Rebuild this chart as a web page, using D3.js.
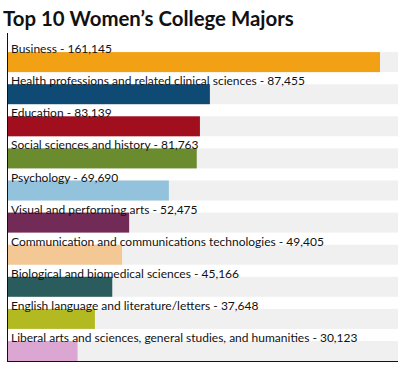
<!DOCTYPE html>
<meta charset="utf-8">
<script src="https://cdn.jsdelivr.net/npm/d3@7"></script>
<style>
  body { margin: 0; background: #fff; }
  text { font-family: Lato, "Open Sans", sans-serif; }
</style>
<body>
<script>

// Data.
var majors = ["Business",
              "Health professions and related clinical sciences",
              "Education",
              "Social sciences and history",
              "Psychology",
              "Visual and performing arts",
              "Communication and communications technologies",
              "Biological and biomedical sciences",
              "English language and literature/letters",
              "Liberal arts and sciences, general studies, and humanities"];
var degrees = [161145, 87455, 83139, 81763, 69690, 52475, 49405, 45166, 37648, 30123];
var colors = ["#f2a014", "#0e4a74", "#a10e1d", "#6a8c2f", "#93c3dc",
              "#722a56", "#f3c894", "#2b5c5d", "#b3ba21", "#dca6d2"];

var width = 398, height = 370;
var margin = {top: 40, left: 8, bottom: 9};

var data = majors.map(function(m, i) {
  return {major: m, value: degrees[i], color: colors[i]};
});

var svg = d3.select("body").append("svg")
    .attr("width", width)
    .attr("height", height);

// Title
svg.append("text")
    .attr("x", 3)
    .attr("y", 26)
    .attr("font-size", "20.4px")
    .attr("font-weight", "bold")
    .attr("fill", "#111")
    .text("Top 10 Women\u2019s College Majors");

var y = d3.scaleBand()
    .domain(majors)
    .range([margin.top, height - margin.bottom]);

var x = d3.scaleLinear()
    .domain([0, 161145])
    .range([margin.left, 380]);

var barH = 20;

// grey tracks behind the bars
svg.selectAll(".track")
    .data(data)
  .enter().append("rect")
    .attr("class", "track")
    .attr("x", margin.left)
    .attr("y", function(d) { return y(d.major) + y.bandwidth() - barH; })
    .attr("width", width - margin.left)
    .attr("height", barH)
    .attr("fill", "#f0f0f0");

// the bars
svg.selectAll(".bar")
    .data(data)
  .enter().append("rect")
    .attr("class", "bar")
    .attr("x", x(0))
    .attr("y", function(d) { return y(d.major) + y.bandwidth() - barH; })
    .attr("width", function(d) { return x(d.value) - x(0); })
    .attr("height", barH)
    .attr("fill", function(d) { return d.color; });

// labels
svg.selectAll(".label")
    .data(data)
  .enter().append("text")
    .attr("class", "label")
    .attr("x", 11)
    .attr("y", function(d) { return y(d.major) + y.bandwidth() - barH + 1; })
    .attr("font-size", "12px")
    .attr("fill", "#111")
    .text(function(d) { return d.major + " - " + d3.format(",")(d.value); });

// axis lines
svg.append("line")
    .attr("x1", 7.5).attr("x2", 7.5)
    .attr("y1", 33).attr("y2", height - margin.bottom)
    .attr("stroke", "#111");
svg.append("line")
    .attr("x1", 7).attr("x2", width)
    .attr("y1", height - margin.bottom + 0.5).attr("y2", height - margin.bottom + 0.5)
    .attr("stroke", "#111");

</script>
</body>
